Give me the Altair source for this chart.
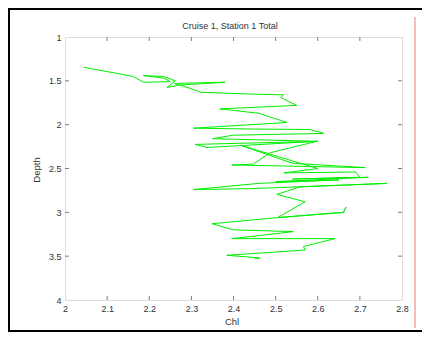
import altair as alt
import pandas as pd

# Chl / Depth trace, in cast order
chl = [2.044, 2.162, 2.186, 2.25, 2.235, 2.186, 2.234, 2.262, 2.242, 2.269,
       2.38, 2.26, 2.30, 2.321, 2.435, 2.519, 2.512, 2.55, 2.368, 2.46,
       2.527, 2.305, 2.45, 2.582, 2.614, 2.40, 2.35, 2.60, 2.309, 2.337,
       2.598, 2.487, 2.447, 2.396, 2.713, 2.54, 2.42, 2.60, 2.52, 2.69,
       2.70, 2.54, 2.72, 2.50, 2.65, 2.46, 2.305, 2.44, 2.764, 2.558,
       2.503, 2.57, 2.505, 2.661, 2.667, 2.661, 2.505, 2.349, 2.40, 2.542,
       2.47, 2.396, 2.641, 2.566, 2.57, 2.384, 2.463, 2.45]
depth = [1.345, 1.45, 1.516, 1.51, 1.47, 1.44, 1.45, 1.50, 1.577, 1.55,
         1.516, 1.53, 1.59, 1.63, 1.65, 1.66, 1.69, 1.78, 1.82, 1.87,
         1.975, 2.04, 2.05, 2.055, 2.10, 2.12, 2.16, 2.19, 2.225, 2.26,
         2.19, 2.32, 2.45, 2.46, 2.49, 2.44, 2.24, 2.50, 2.55, 2.54,
         2.60, 2.62, 2.60, 2.65, 2.63, 2.67, 2.74, 2.73, 2.67, 2.71,
         2.795, 2.88, 3.06, 3.00, 2.94, 3.00, 3.06, 3.13, 3.20, 3.22,
         3.26, 3.30, 3.30, 3.39, 3.43, 3.49, 3.52, 3.53]

x_ticks = [2, 2.1, 2.2, 2.3, 2.4, 2.5, 2.6, 2.7, 2.8]
y_ticks = [1, 1.5, 2, 2.5, 3, 3.5, 4]

title_text = "Cruise 1, Station 1 Total"
x_title = "Chl"
y_title = "Depth"

W, H = 337, 263
FONT = "Liberation Sans"
TXT = "#333333"
AX = "#808080"

df = pd.DataFrame({"chl": chl, "depth": depth, "i": list(range(len(chl)))})
xt = pd.DataFrame({"v": x_ticks[1:-1]})
yt = pd.DataFrame({"v": y_ticks[1:-1]})

xs = alt.Scale(domain=[2, 2.8], nice=False, zero=False)
ys = alt.Scale(domain=[1, 4], reverse=True, nice=False, zero=False)

line = alt.Chart(df).mark_line(color="#00ee00", strokeWidth=1, clip=True).encode(
    x=alt.X("chl:Q", scale=xs, title=None,
            axis=alt.Axis(values=x_ticks, format="~g", tickSize=0, domain=False, grid=False,
                          labelPadding=4, labelFont=FONT, labelFontSize=9, labelColor=TXT,
                          labelFlush=False)),
    y=alt.Y("depth:Q", scale=ys, title=None,
            axis=alt.Axis(values=y_ticks, format="~g", tickSize=0, domain=False, grid=False,
                          labelPadding=4, labelFont=FONT, labelFontSize=9, labelColor=TXT,
                          labelFlush=False)),
    order="i:Q",
)

tick_bottom = alt.Chart(xt).mark_rule(color=AX, strokeWidth=1).encode(
    x=alt.X("v:Q", scale=xs), y=alt.value(H), y2=alt.value(H - 4))
tick_top = alt.Chart(xt).mark_rule(color=AX, strokeWidth=1).encode(
    x=alt.X("v:Q", scale=xs), y=alt.value(0), y2=alt.value(4))
tick_left = alt.Chart(yt).mark_rule(color=AX, strokeWidth=1).encode(
    y=alt.Y("v:Q", scale=ys), x=alt.value(0), x2=alt.value(4))
tick_right = alt.Chart(yt).mark_rule(color=AX, strokeWidth=1).encode(
    y=alt.Y("v:Q", scale=ys), x=alt.value(W), x2=alt.value(W - 4))

one = pd.DataFrame({"a": [0]})
title = alt.Chart(one).mark_text(font=FONT, fontSize=9, color=TXT, baseline="middle").encode(
    x=alt.value(165), y=alt.value(-11), text=alt.value(title_text))
xlab = alt.Chart(one).mark_text(font=FONT, fontSize=9.5, color=TXT, baseline="middle").encode(
    x=alt.value(167), y=alt.value(285), text=alt.value(x_title))
ylab = alt.Chart(one).mark_text(font=FONT, fontSize=9.5, color=TXT, baseline="middle", angle=270).encode(
    x=alt.value(-28), y=alt.value(133), text=alt.value(y_title))

BL, BT, BB, BR = -56, -28, 294, 380
b_top = alt.Chart(one).mark_rule(color="black", strokeWidth=2).encode(
    x=alt.value(BL - 1), x2=alt.value(BR), y=alt.value(BT))
b_left = alt.Chart(one).mark_rule(color="black", strokeWidth=2).encode(
    x=alt.value(BL), y=alt.value(BT), y2=alt.value(BB))
b_bottom = alt.Chart(one).mark_rule(color="black", strokeWidth=2).encode(
    x=alt.value(BL - 1), x2=alt.value(BR), y=alt.value(BB))
red = alt.Chart(one).mark_rule(color="#f07878", strokeWidth=1).encode(
    x=alt.value(350), y=alt.value(-20), y2=alt.value(291))

chart = alt.layer(
    b_top, b_left, b_bottom, red, line, tick_bottom, tick_top, tick_left, tick_right,
    title, xlab, ylab
).properties(
    width=W, height=H,
    autosize=alt.AutoSizeParams(type="none"),
    padding={"left": 57, "top": 29, "right": 20, "bottom": 33},
).configure_view(stroke=AX, strokeWidth=1).configure(background="white")

chart.save("out.html", embed_options={"renderer": "svg", "actions": False})
